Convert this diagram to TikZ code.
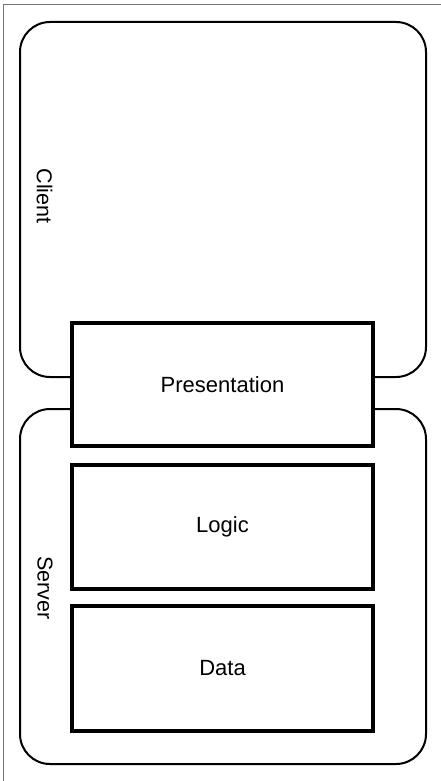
\documentclass[tikz,border=0pt]{standalone}
\usepackage{fontspec}
\setmainfont{Liberation Sans}
\usetikzlibrary{positioning}
\tikzset{zone/.style = {draw, line width = 2pt, rounded corners = 30pt, minimum width = 406pt, minimum height = 355pt, inner sep = 0}}
\tikzset{tier/.style = {draw, fill = white, line width = 3.2pt, minimum width = 301pt, inner sep = 0, font = \fontsize{22}{26}\selectfont}}
\tikzset{side/.style = {rotate = -90, inner sep = 0, font = \fontsize{21.5}{26}\selectfont}}

\begin{document}
\begin{tikzpicture}[x=1pt, y=-1pt]
      \useasboundingbox (0, 0) rectangle (441, 781);
      \draw [gray!90!black, line width = 1.5pt] (3.5, 781) -- (3.5, 4.5) -- (441, 4.5);

      \node [zone] at (223, 199.5) (client) {};
      \node [zone] at (223, 586.5) (server) {};

      \node [side] at (44.5, 196) (clientlabel) {Client};
      \node [side] at (45, 588) (serverlabel) {Server};

      \node [tier, minimum height = 123pt] at (222.5, 384.5) (presentation) {Presentation};
      \node [tier, minimum height = 124pt] at (222.5, 527) (logic) {Logic};
      \node [tier, minimum height = 125pt] at (222.5, 668.5) (data) {Data};
    \end{tikzpicture}
\end{document}
